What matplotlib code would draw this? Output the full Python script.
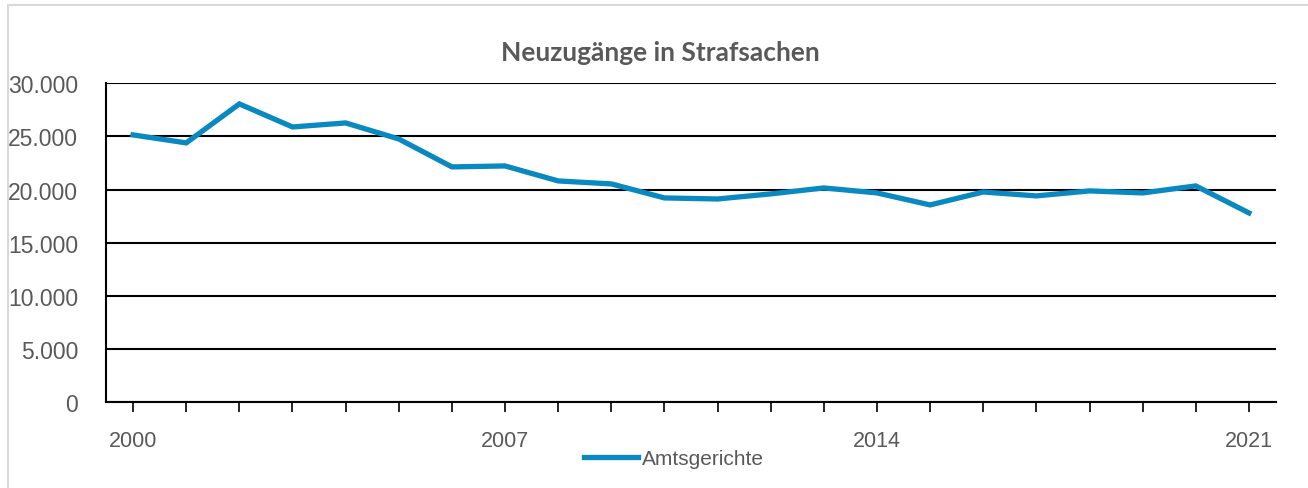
import matplotlib.pyplot as plt
from matplotlib.patches import Rectangle
from matplotlib.ticker import FuncFormatter

years = list(range(2000, 2022))
amtsgerichte = [25140, 24390, 28060, 25890, 26270, 24760, 22130, 22220, 20810, 20530,
                19210, 19110, 19590, 20150, 19680, 18550, 19770, 19400, 19870, 19680,
                20340, 17800]
labelled_years = [2000, 2007, 2014, 2021]
y_ticks = [0, 5000, 10000, 15000, 20000, 25000, 30000]

grey = '#595959'
blue = '#0a89c1'

fig = plt.figure(figsize=(13.08, 4.89), dpi=100)
ax = fig.add_axes([106 / 1308, 1 - 403 / 489, 1170 / 1308, (403 - 84.3) / 489])

# light frame around the chart area
fig.patches.append(Rectangle((8 / 1308, -0.1), 1.2, 1 - 6 / 489 + 0.1, transform=fig.transFigure,
                             fill=False, edgecolor='#d9d9d9', linewidth=1.5))

ax.plot(years, amtsgerichte, color=blue, linewidth=3.8, solid_joinstyle='miter',
        label='Amtsgerichte', zorder=3)

ax.set_xlim(1999.49, 2021.51)
ax.set_ylim(0, 30000)
ax.set_yticks(y_ticks)
ax.yaxis.set_major_formatter(FuncFormatter(lambda v, p: f'{int(v):,}'.replace(',', '.')))
ax.set_xticks(years)
ax.set_xticklabels([str(y) if y in labelled_years else '' for y in years])

ax.grid(axis='y', color='black', linewidth=1.5)
ax.set_axisbelow(True)
for s in ['top', 'right']:
    ax.spines[s].set_visible(False)
ax.spines['left'].set_linewidth(1.5)
ax.spines['bottom'].set_linewidth(1.5)

ax.tick_params(axis='y', length=0, pad=20, labelsize=16.5, labelcolor=grey,
               labelfontfamily='Liberation Sans')
ax.tick_params(axis='x', length=7, width=1.2, direction='out', pad=13, labelsize=15.5,
               labelcolor=grey, labelfontfamily='Liberation Sans')

fig.text(0.505, 1 - 53 / 489, 'Neuzugänge in Strafsachen', ha='center', va='center',
         fontsize=19, fontweight='bold', color=grey, family='Lato')

ax.legend(loc='center', bbox_to_anchor=((674 - 106) / 1170, (403 - 460) / (403 - 84.3)),
          frameon=False, labelcolor=grey, handlelength=2.6, handletextpad=0.2,
          prop={'family': 'Liberation Sans', 'size': 15})

fig.savefig('out.png', dpi=100)
